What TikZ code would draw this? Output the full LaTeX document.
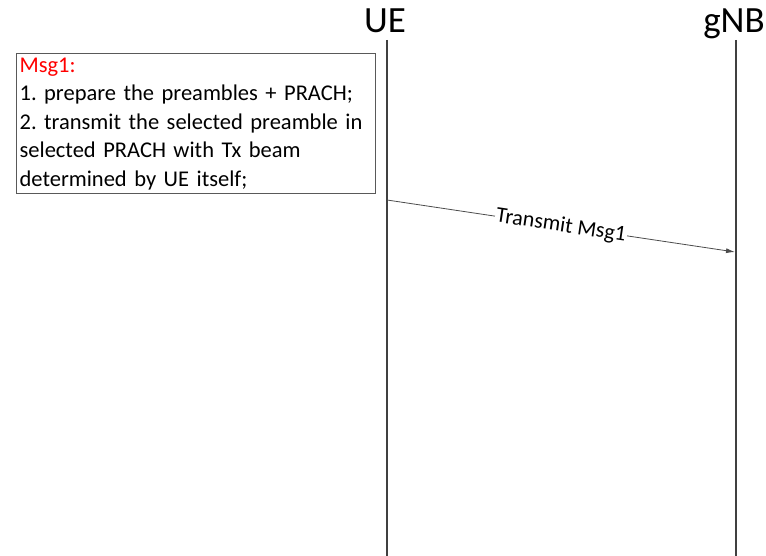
\documentclass[tikz,border=0pt]{standalone}
\usepackage{fontspec}
\setmainfont{Carlito}
\frenchspacing
\usetikzlibrary{positioning,arrows.meta}

\begin{document}
\begin{tikzpicture}[x=1pt, y=-1pt,
entity/.style={anchor=base, inner sep=0pt, font=\fontsize{37}{44}\selectfont},
lifeline/.style={draw=black!75, line width=2.5pt},
notebox/.style={rectangle, draw=black!65, line width=1.2pt, anchor=north west, align=left,
  text width=353pt, minimum height=140pt, inner xsep=3pt, inner ysep=2pt,
  font=\fontsize{22.5}{28.5}\selectfont},
msg/.style={draw=black!70, line width=0.8pt, -{Latex[length=9pt,width=5pt]}},
msglabel/.style={sloped, fill=white, inner sep=1pt, font=\fontsize{22}{26}\selectfont},
]
\useasboundingbox (0,0) rectangle (766,556);

% entities on top
\node[entity](ue) at (385,33){UE};
\node[entity](gnb) at (734,33){gNB};

% lifelines
\coordinate (ue_top) at (387,40);
\coordinate (ue_bottom) at (387,556);
\coordinate (gnb_top) at (736,40);
\coordinate (gnb_bottom) at (736,556);
\draw[lifeline] (ue_top) -- (ue_bottom);
\draw[lifeline] (gnb_top) -- (gnb_bottom);

% note for Msg1
\node[notebox](msg1_note) at (16,53){\textcolor{red}{Msg1:}\\
1. prepare the preambles + PRACH;\\
2. transmit the selected preamble in\\
selected PRACH with Tx beam\\
determined by UE itself;};

% Msg1 from UE to gNB
\coordinate (ue_msg1) at (387,200);
\coordinate (gnb_msg1) at (735,252);
\draw[msg] (ue_msg1) -- node[msglabel](msg1_label){Transmit Msg1} (gnb_msg1);

\end{tikzpicture}
\end{document}
